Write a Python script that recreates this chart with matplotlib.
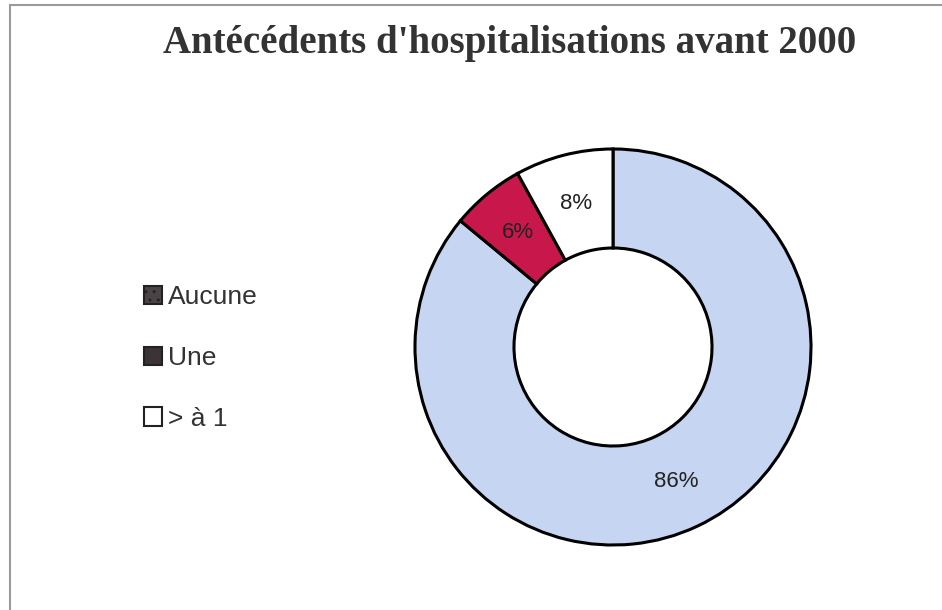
import matplotlib.pyplot as plt
from matplotlib.patches import Patch, Rectangle

# Data
labels = ['Aucune', 'Une', '> à 1']
values = [86, 6, 8]
colors = ['#c6d5f1', '#c8184b', '#ffffff']
legend_colors = ['#4a4446', '#3b3336', '#ffffff']

fig = plt.figure(figsize=(9.42, 6.10), dpi=100)

# grey frame around the chart
fig.add_artist(Rectangle((10 / 942, -0.05), 1.1, (605 / 610) + 0.05,
                         transform=fig.transFigure, fill=False,
                         edgecolor='#9a9a9a', linewidth=1.5))

ax = fig.add_axes([413 / 942, 63 / 610, 400 / 942, 400 / 610])
wedges, texts, autotexts = ax.pie(
    values, colors=colors, startangle=90, counterclock=False,
    autopct='%1.0f%%', pctdistance=0.75,
    wedgeprops=dict(width=0.5, edgecolor='black', linewidth=2.2),
    textprops=dict(fontsize=16, family='Liberation Sans', color='#222222'))
ax.set_xlim(-1.01, 1.01)
ax.set_ylim(-1.01, 1.01)
ax.set_aspect('equal')

# Title
fig.text(510 / 942, 1 - 44 / 610, "Antécédents d'hospitalisations avant 2000",
         ha='center', va='center', fontsize=28, fontweight='bold',
         family='Liberation Serif', color='#333333')

# Legend
handles = [Patch(facecolor=c, edgecolor='#222222', linewidth=1.5)
           for c in legend_colors]
handles[0].set_hatch('..')
fig.legend(handles, labels, loc='center left',
           bbox_to_anchor=(120 / 942, 1 - 358 / 610), frameon=False,
           prop=dict(family='Liberation Sans', size=19),
           labelspacing=1.4, handlelength=0.7, handleheight=0.7,
           handletextpad=0.2, labelcolor='#333333')

plt.savefig('out.png', dpi=100)
